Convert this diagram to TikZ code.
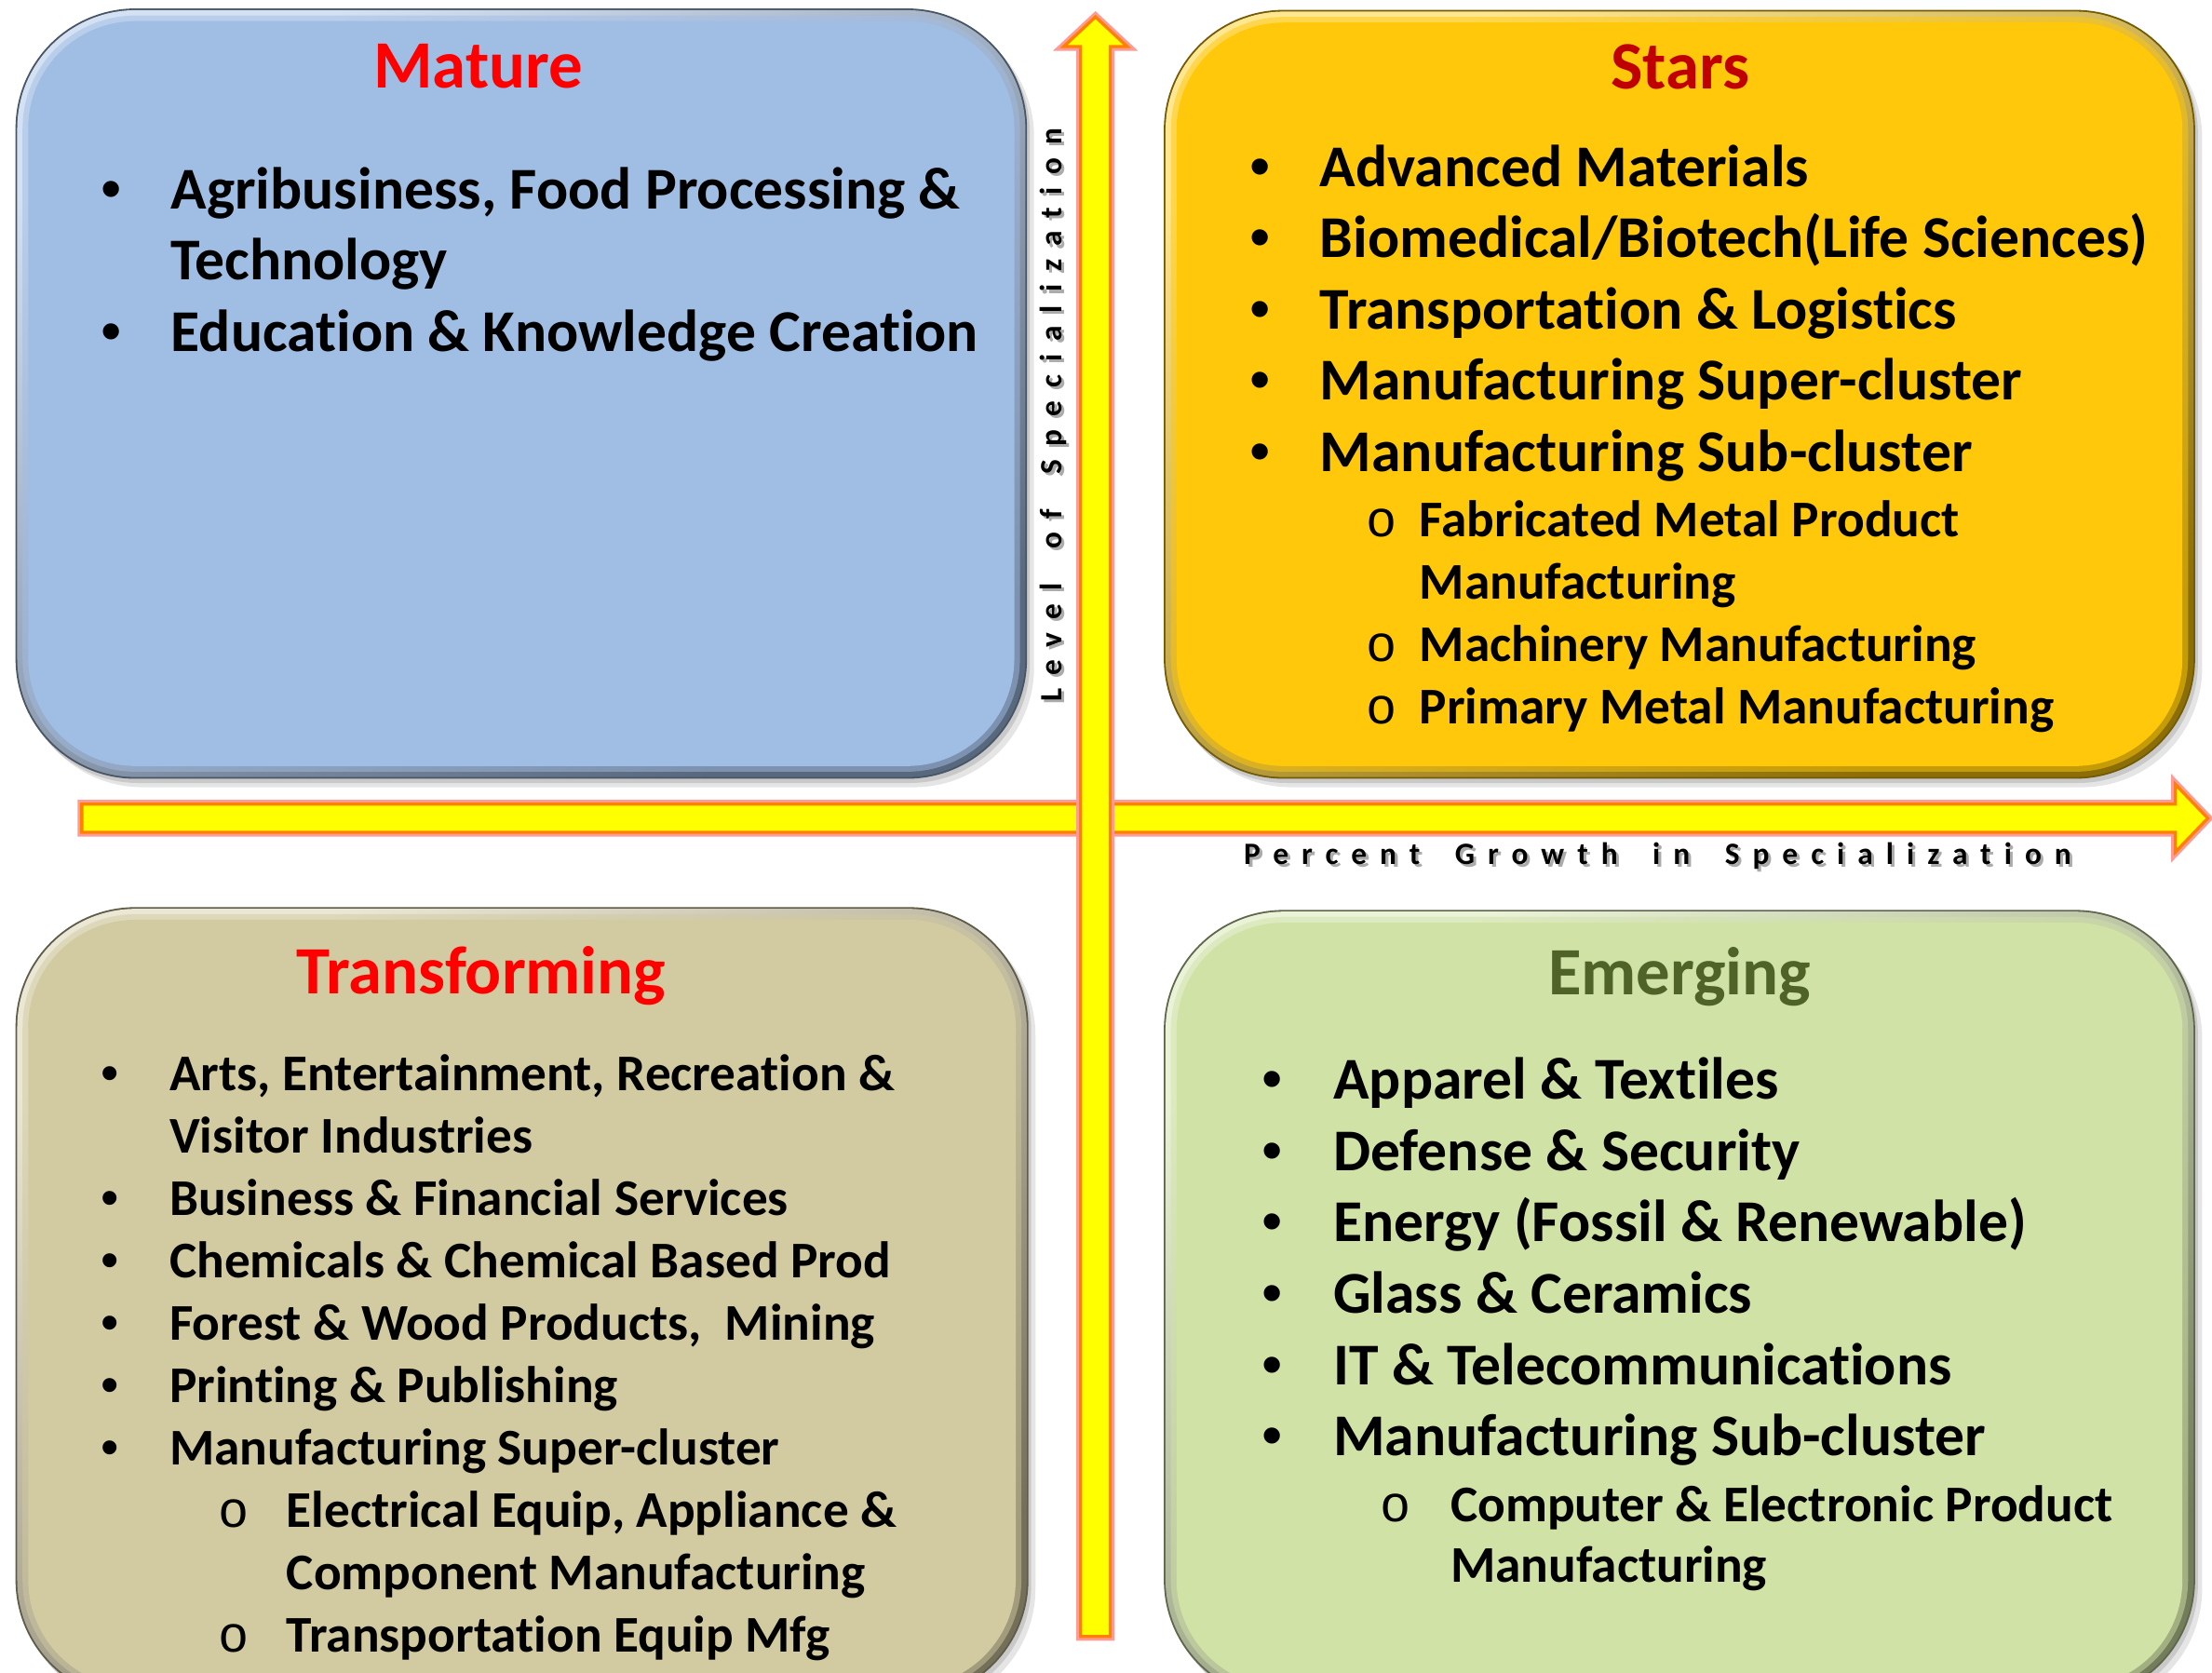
\documentclass[tikz,border=0pt]{standalone}
\usepackage{fontspec}
\setmainfont{Carlito}[Ligatures=NoCommon]
\newfontfamily\bulletfont{Liberation Sans}
\newfontfamily\ofont{Liberation Mono}
\newfontfamily\axisfont{Carlito}[LetterSpace=42, Ligatures=NoCommon]
\definecolor{matureC}{RGB}{160,189,227}
\definecolor{starsC}{RGB}{255,200,10}
\definecolor{transC}{RGB}{210,202,161}
\definecolor{emergC}{RGB}{209,226,166}
\definecolor{titleRed}{RGB}{255,0,0}
\definecolor{starsRed}{RGB}{192,0,0}
\definecolor{emergGreen}{RGB}{79,98,40}
\definecolor{arrowOrange}{RGB}{255,128,0}
\definecolor{arrowPink}{RGB}{255,155,150}
\definecolor{arrowYellow}{RGB}{255,255,0}
\newcommand\qbox[5]{%
  \fill[black,opacity=0.10,rounded corners=85pt] (#1+5,#2+6) rectangle (#3+5,#4+6);
  \fill[black,opacity=0.12,rounded corners=85pt] (#1+2,#2+3) rectangle (#3+2,#4+3);
  \fill[#5!45!black,rounded corners=85pt] (#1,#2) rectangle (#3,#4);
  \shade[top color=#5!45!white, bottom color=#5!55!black, shading angle=30, rounded corners=84pt] (#1+1.2,#2+1.2) rectangle (#3-1.2,#4-1.2);
  \fill[#5,opacity=0.5,rounded corners=80pt] (#1+5,#2+5) rectangle (#3-5,#4-5);
  \fill[#5,rounded corners=76pt] (#1+9,#2+9) rectangle (#3-9,#4-9);
}
\newcommand\wsp{\ \hspace{10.5pt}}
\tikzset{
  big/.style={font=\bfseries\fontsize{42}{50}\selectfont, anchor=base west, inner sep=0pt},
  small/.style={font=\bfseries\fontsize{36.5}{44}\selectfont, anchor=base west, inner sep=0pt},
  bigdot/.style={font=\bulletfont\fontsize{42}{50}\selectfont, anchor=base, inner sep=0pt},
  smalldot/.style={font=\bulletfont\fontsize{36.5}{44}\selectfont, anchor=base, inner sep=0pt},
  subo/.style={font=\ofont\fontsize{36.5}{44}\selectfont, anchor=base, inner sep=0pt},
  qtitle/.style={font=\bfseries\fontsize{48}{56}\selectfont, anchor=base, inner sep=0pt},
  axislab/.style={font=\axisfont\bfseries\fontsize{22}{25}\selectfont, anchor=base, inner sep=0pt},
  axisshadow/.style={axislab, text=black!55, opacity=0.6},
  arrowpink/.style={draw=arrowPink, line width=6pt, line join=miter, miter limit=10},
  arrowcore/.style={draw=arrowOrange, fill=arrowYellow, line width=2.2pt, line join=miter, miter limit=10},
}
\begin{document}
\begin{tikzpicture}[x=1pt,y=-1pt]
\useasboundingbox (0,0) rectangle (1568,1185.3);
\clip (0,0) rectangle (1568,1185.3);
\fill[white] (0,0) rectangle (1568,1185.3);

% quadrant boxes
\qbox{11}{6}{728}{552}{matureC}
\qbox{825}{7}{1556}{552}{starsC}
\qbox{11}{643}{729}{1205}{transC}
\qbox{825}{645}{1556}{1205}{emergC}

% horizontal axis arrow
\path[arrowpink] (58,570) -- (1542,570) -- (1542,556) -- (1565,580) -- (1542,604) -- (1542,590) -- (58,590) -- cycle;
\path[arrowcore] (58,570) -- (1542,570) -- (1542,556) -- (1565,580) -- (1542,604) -- (1542,590) -- (58,590) -- cycle;
% vertical axis arrow
\path[arrowpink] (766,1160) -- (766,33) -- (754,33) -- (776.5,12) -- (799,33) -- (787,33) -- (787,1160) -- cycle;
\path[arrowcore] (766,1160) -- (766,33) -- (754,33) -- (776.5,12) -- (799,33) -- (787,33) -- (787,1160) -- cycle;

% axis labels
\node[axisshadow, rotate=90] (ylabS) at (754.5,296) {Level\wsp of\wsp Specialization};
\node[axislab, rotate=90] (ylab) at (752.5,294) {Level\wsp of\wsp Specialization};
\node[axisshadow] (xlabS) at (1177,615) {Percent\wsp Growth\wsp in\wsp Specialization};
\node[axislab] (xlab) at (1175,613) {Percent\wsp Growth\wsp in\wsp Specialization};

% Mature
\node[qtitle, text=titleRed] (matT) at (339,62.5) {Mature};
\node[bigdot] (mb1) at (79,148) {•};
\node[big] (m1) at (121,148) {Agribusiness, Food Processing \&};
\node[big] (m1b) at (121,198.5) {Technology};
\node[bigdot] (mb2) at (79,249) {•};
\node[big] (m2) at (121,249) {Education \& Knowledge Creation};

% Stars
\node[qtitle, text=starsRed] (starT) at (1191,63) {Stars};
\node[bigdot] (sb1) at (893.6,132) {•};
\node[big] (s1) at (935.5,132) {Advanced Materials};
\node[bigdot] (sb2) at (893.6,182.5) {•};
\node[big] (s2) at (935.5,182.5) {Biomedical/Biotech(Life Sciences)};
\node[bigdot] (sb3) at (893.6,233) {•};
\node[big] (s3) at (935.5,233) {Transportation \& Logistics};
\node[bigdot] (sb4) at (893.6,283.5) {•};
\node[big] (s4) at (935.5,283.5) {Manufacturing Super-cluster};
\node[bigdot] (sb5) at (893.6,334) {•};
\node[big] (s5) at (935.5,334) {Manufacturing Sub-cluster};
\node[subo] (so1) at (979.5,380.5) {o};
\node[small] (ss1) at (1006,380.5) {Fabricated Metal Product};
\node[small] (ss1b) at (1006,424.7) {Manufacturing};
\node[subo] (so2) at (979.5,468.9) {o};
\node[small] (ss2) at (1006,468.9) {Machinery Manufacturing};
\node[subo] (so3) at (979.5,513.1) {o};
\node[small] (ss3) at (1006,513.1) {Primary Metal Manufacturing};

% Transforming
\node[qtitle, text=titleRed] (traT) at (341,704.5) {Transforming};
\node[smalldot] (tb1) at (78,773) {•};
\node[small] (t1) at (120,773) {Arts, Entertainment, Recreation \&};
\node[small] (t1b) at (120,817.2) {Visitor Industries};
\node[smalldot] (tb2) at (78,861.4) {•};
\node[small] (t2) at (120,861.4) {Business \& Financial Services};
\node[smalldot] (tb3) at (78,905.6) {•};
\node[small] (t3) at (120,905.6) {Chemicals \& Chemical Based Prod};
\node[smalldot] (tb4) at (78,949.8) {•};
\node[small] (t4) at (120,949.8) {Forest \& Wood Products,\ \ Mining};
\node[smalldot] (tb5) at (78,994) {•};
\node[small] (t5) at (120,994) {Printing \& Publishing};
\node[smalldot] (tb6) at (78,1038.2) {•};
\node[small] (t6) at (120,1038.2) {Manufacturing Super-cluster};
\node[subo] (to1) at (165.7,1082.4) {o};
\node[small] (ts1) at (203,1082.4) {Electrical Equip, Appliance \&};
\node[small] (ts1b) at (203,1126.6) {Component Manufacturing};
\node[subo] (to2) at (165.7,1170.8) {o};
\node[small] (ts2) at (203,1170.8) {Transportation Equip Mfg};

% Emerging
\node[qtitle, text=emergGreen] (emeT) at (1190.6,705) {Emerging};
\node[bigdot] (eb1) at (902,779) {•};
\node[big] (e1) at (945,779) {Apparel \& Textiles};
\node[bigdot] (eb2) at (902,829.6) {•};
\node[big] (e2) at (945,829.6) {Defense \& Security};
\node[bigdot] (eb3) at (902,880.2) {•};
\node[big] (e3) at (945,880.2) {Energy (Fossil \& Renewable)};
\node[bigdot] (eb4) at (902,930.8) {•};
\node[big] (e4) at (945,930.8) {Glass \& Ceramics};
\node[bigdot] (eb5) at (902,981.4) {•};
\node[big] (e5) at (945,981.4) {IT \& Telecommunications};
\node[bigdot] (eb6) at (902,1032) {•};
\node[big] (e6) at (945,1032) {Manufacturing Sub-cluster};
\node[subo] (eo1) at (989,1078.5) {o};
\node[small] (es1) at (1028,1078.5) {Computer \& Electronic Product};
\node[small] (es1b) at (1028,1121.5) {Manufacturing};
\end{tikzpicture}
\end{document}
